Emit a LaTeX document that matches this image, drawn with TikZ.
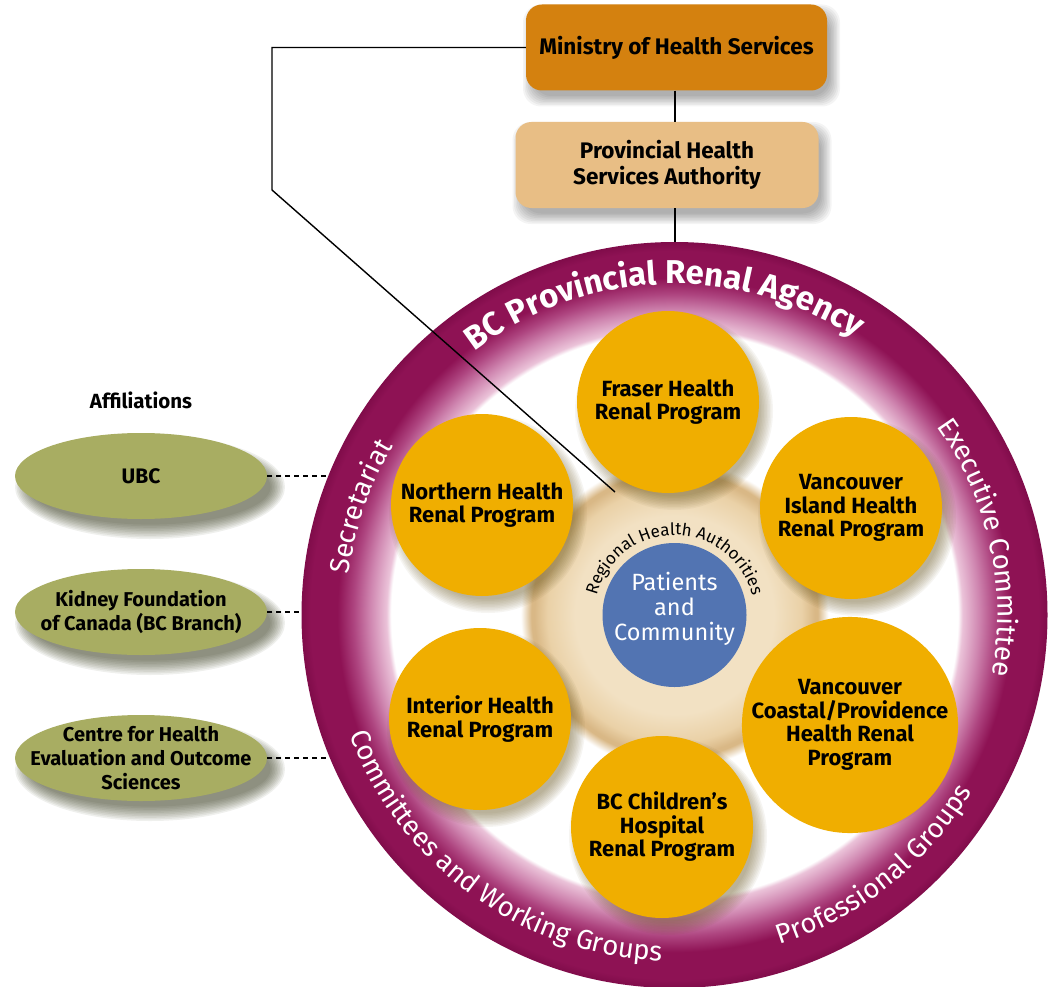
\documentclass[tikz,border=0pt]{standalone}
\usepackage{fontspec}
\setmainfont{Fira Sans}
\usetikzlibrary{decorations.text,shapes.geometric}
\definecolor{minorange}{HTML}{D4810F}
\definecolor{phsatan}{HTML}{E8BE85}
\definecolor{olivegr}{HTML}{A8AD62}
\definecolor{goldc}{HTML}{F0AE00}
\definecolor{bluec}{HTML}{5274B2}
\definecolor{ringedge}{HTML}{800C4A}
\definecolor{ringdark}{HTML}{8E1254}
\definecolor{ringmid}{HTML}{AE4580}
\definecolor{ringpink}{HTML}{CF86B0}
\definecolor{ringlight}{HTML}{EBC3D9}
\definecolor{beigeA}{HTML}{F2E1C3}
\definecolor{beigeB}{HTML}{EAD1A7}
\definecolor{beigeC}{HTML}{D9B886}
\definecolor{shadowgold}{HTML}{5E4C12}
\definecolor{shadowol}{HTML}{34361A}
\pgfdeclareradialshading{ringshade}{\pgfpoint{0bp}{0bp}}{color(0bp)=(white); color(19bp)=(white); color(19.3bp)=(ringlight); color(20.4bp)=(ringpink); color(21.5bp)=(ringmid); color(22.6bp)=(ringdark); color(24.4bp)=(ringdark); color(25bp)=(ringedge); color(50bp)=(ringedge)}
\pgfdeclareradialshading{beigeshade}{\pgfpoint{0bp}{0bp}}{color(0bp)=(beigeA); color(16bp)=(beigeA); color(20.5bp)=(beigeB); color(22.6bp)=(beigeC); color(23.1bp)=(beigeC); color(24.8bp)=(white); color(50bp)=(white)}
\newcommand{\goldshadow}[2]{\foreach \k in {0,...,9}{\fill[shadowgold, opacity=0.05] (#1+6,#2-9) circle[radius=99-1.5*\k];}}
\newcommand{\ellshadow}[2]{\foreach \k in {0,...,9}{\fill[shadowol, opacity=0.075] (#1+9,#2-11) ellipse[x radius=135-1.6*\k, y radius=52-1.6*\k];}}
\newcommand{\boxshadow}[4]{\foreach \k in {0,...,7}{\pgfmathsetmacro\dd{8-1.5*\k}\fill[black, opacity=0.045, rounded corners=18pt] (#1+5-\dd,#2-8+\dd) rectangle (#3+5+\dd,#4-8-\dd);}}
\tikzset{
  goldcirc/.style={circle, fill=goldc, minimum size=182pt, inner sep=0pt, align=center, font=\bfseries\fontsize{22}{23.5}\selectfont},
  topbox/.style={rectangle, rounded corners=16pt, inner sep=0pt, align=center, font=\bfseries\fontsize{22.5}{26}\selectfont},
  affell/.style={ellipse, fill=olivegr, minimum width=252pt, minimum height=86pt, inner sep=0pt},
  afftext/.style={align=center, inner sep=0pt, font=\bfseries\fontsize{20}{24}\selectfont},
  conn/.style={line width=1.4pt, black},
  affconn/.style={line width=1.2pt, black, dash pattern=on 5pt off 4pt},
}
\begin{document}
\begin{tikzpicture}[x=1pt,y=1pt]
\fill[white] (0,-987) rectangle (1054,0);
\useasboundingbox (0,-987) rectangle (1054,0);
\coordinate (C) at (674.5,-615);
% ring
\shade[shading=ringshade] (C) circle[radius=373];
\path[decorate, decoration={text along path, text align=center, text={|\color{white}\bfseries\fontsize{33}{33}\selectfont|BC Provincial Renal Agency}}] (C) ++(152:331) arc[start angle=152, end angle=32, radius=331];
\path[decorate, decoration={text along path, text align=center, text={|\color{white}\fontsize{27.5}{27.5}\selectfont|Executive Committee}}] (C) ++(62.5:323) arc[start angle=62.5, end angle=-37.5, radius=323];
\path[decorate, decoration={text along path, text align=center, text={|\color{white}\fontsize{27.5}{27.5}\selectfont|Secretariat}}] (C) ++(200:328) arc[start angle=200, end angle=122, radius=328];
\path[decorate, decoration={text along path, text align=center, text={|\color{white}\fontsize{27.5}{27.5}\selectfont|Committees and Working Groups}}] (C) ++(180.5:346) arc[start angle=180.5, end angle=287.5, radius=346];
\path[decorate, decoration={text along path, text align=center, text={|\color{white}\fontsize{27.5}{27.5}\selectfont|Professional Groups}}] (C) ++(258.5:346) arc[start angle=258.5, end angle=358.5, radius=346];
% beige centre
\shade[shading=beigeshade] (C) circle[radius=155];
% gold circles
\goldshadow{668}{-402}
\goldshadow{482}{-505}
\goldshadow{851}{-508}
\goldshadow{480}{-719}
\goldshadow{850}{-725}
\goldshadow{662}{-827}
\node[goldcirc] (fraser) at (668,-402) {Fraser Health\\Renal Program};
\node[goldcirc] (northern) at (482,-505) {Northern Health\\Renal Program};
\node[goldcirc] (island) at (851,-508) {Vancouver\\Island Health\\Renal Program};
\node[goldcirc] (interior) at (480,-719) {Interior Health\\Renal Program};
\node[goldcirc] (coastal) at (850,-725) {Vancouver\\Coastal/Providence\\Health Renal\\Program};
\node[goldcirc] (children) at (662,-827) {BC Children’s\\Hospital\\Renal Program};
% patients
\node[circle, fill=bluec, minimum size=144pt, inner sep=0pt] (patients) at (C) {};
\node[text=white, align=center, inner sep=0pt, font=\fontsize{23.5}{25}\selectfont] (patientstext) at (674.5,-609) {Patients\\and\\Community};
\path[decorate, decoration={text along path, text align=center, text={|\fontsize{17}{17}\selectfont|Regional Health Authorities}}] (C) ++(180:80) arc[start angle=180, end angle=0, radius=80];
% top boxes
\boxshadow{526}{-4.5}{827}{-90.5}
\boxshadow{515.5}{-122}{818.5}{-208}
\node[topbox, fill=minorange, minimum width=301pt, minimum height=86pt] (ministry) at (676.5,-47.5) {Ministry of Health Services};
\node[topbox, fill=phsatan, minimum width=303pt, minimum height=86pt] (phsa) at (667,-165) {Provincial Health\\Services Authority};
\coordinate (ringtop) at (675,-242);
\draw[conn] (ringtop |- ministry.south) -- (ringtop |- phsa.north);
\draw[conn] (ringtop |- phsa.south) -- (ringtop);
\coordinate (bendA) at (272,-47.5);
\coordinate (bendB) at (272,-190);
\coordinate (rhaend) at (615,-492);
\draw[conn] (ministry.west) -- (bendA) -- (bendB) -- (rhaend);
% affiliations
\node[font=\bfseries\fontsize{20.5}{20.5}\selectfont] (aff) at (141,-400) {Affiliations};
\ellshadow{141}{-476}
\ellshadow{141}{-612}
\ellshadow{141}{-758}
\node[affell] (ubc) at (141,-476) {};
\node[affell] (kfc) at (141,-612) {};
\node[affell] (chess) at (141,-758) {};
\node[afftext, font=\bfseries\fontsize{21}{24}\selectfont] (ubctext) at (ubc) {UBC};
\node[afftext] (kfctext) at (kfc) {Kidney Foundation\\of Canada (BC Branch)};
\node[afftext] (chesstext) at (chess) {Centre for Health\\Evaluation and Outcome\\Sciences};
\coordinate (ubcend) at (329,-476);
\coordinate (kfcend) at (302,-612);
\coordinate (chessend) at (329.5,-758);
\draw[affconn] (ubc.east) -- (ubcend);
\draw[affconn] (kfc.east) -- (kfcend);
\draw[affconn] (chess.east) -- (chessend);
\end{tikzpicture}
\end{document}
